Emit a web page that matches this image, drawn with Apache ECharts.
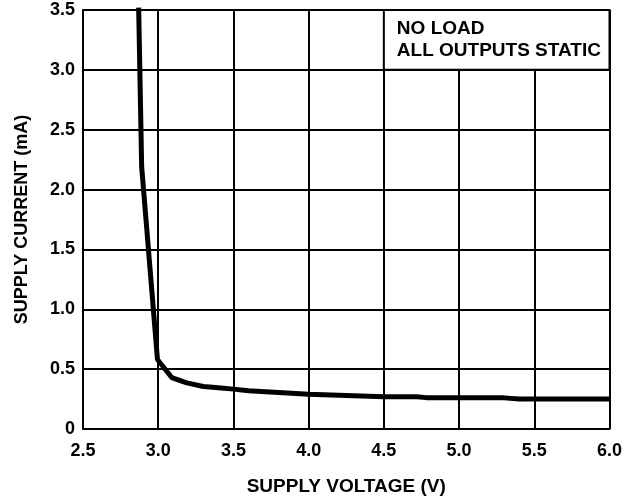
<!DOCTYPE html>
<html>
<head>
<meta charset="utf-8">
<script src="https://cdn.jsdelivr.net/npm/echarts@6/dist/echarts.min.js"></script>
<style>
  html, body { margin: 0; padding: 0; background: #fff; }
  #chart { width: 625px; height: 502px; }
</style>
</head>
<body>
<div id="chart"></div>
<script>
// supply voltage (V) vs supply current (mA)
const voltage = [2.87, 2.89, 2.995, 3.09, 3.19, 3.3, 3.4, 3.5, 3.6, 4.0, 4.5, 4.72, 4.78, 5.3, 5.4, 6.0]
const current = [3.52, 2.19, 0.58, 0.43, 0.385, 0.355, 0.345, 0.333, 0.32, 0.29, 0.27, 0.27, 0.262, 0.26, 0.25, 0.25]

const xTickLabels = ['2.5', '3.0', '3.5', '4.0', '4.5', '5.0', '5.5', '6.0']
const yTickLabels = ['0', '0.5', '1.0', '1.5', '2.0', '2.5', '3.0', '3.5']

const noteLines = ['NO LOAD', 'ALL OUTPUTS STATIC']

const font = 'Liberation Sans, Arial, sans-serif'
const chart = echarts.init(document.getElementById('chart'))

chart.setOption({
  animation: false,
  grid: { left: 83, right: 14, top: 10, bottom: 73 },
  xAxis: {
    type: 'value',
    min: 2.5,
    max: 6.0,
    interval: 0.5,
    name: 'SUPPLY VOLTAGE (V)',
    nameLocation: 'middle',
    nameGap: 48,
    nameTextStyle: { color: '#000', fontWeight: 'bold', fontSize: 19, fontFamily: font },
    axisLine: { lineStyle: { color: '#000', width: 2 } },
    axisTick: { show: false },
    axisLabel: {
      color: '#000', fontWeight: 'bold', fontSize: 18, fontFamily: font, margin: 13,
      formatter: v => xTickLabels[Math.round((v - 2.5) / 0.5)]
    },
    splitLine: { show: true, lineStyle: { color: '#000', width: 2 } }
  },
  yAxis: {
    type: 'value',
    min: 0,
    max: 3.5,
    interval: 0.5,
    name: 'SUPPLY CURRENT (mA)',
    nameLocation: 'middle',
    nameGap: 52,
    nameTextStyle: { color: '#000', fontWeight: 'bold', fontSize: 18, fontFamily: font },
    axisLine: { show: true, lineStyle: { color: '#000', width: 2 } },
    axisTick: { show: false },
    axisLabel: {
      color: '#000', fontWeight: 'bold', fontSize: 18, fontFamily: font, margin: 8,
      formatter: v => yTickLabels[Math.round(v / 0.5)]
    },
    splitLine: { show: true, lineStyle: { color: '#000', width: 2 } }
  },
  series: [{
    type: 'line',
    data: voltage.map((v, i) => [v, current[i]]),
    showSymbol: false,
    clip: false,
    lineStyle: { color: '#000', width: 5 },
    markArea: {
      silent: true,
      itemStyle: { color: '#fff', borderColor: '#000', borderWidth: 2 },
      label: {
        show: true,
        position: [14, 9],
        color: '#000',
        fontWeight: 'bold',
        fontSize: 19,
        fontFamily: font,
        lineHeight: 22,
        formatter: noteLines.join('\n')
      },
      data: [[{ xAxis: 4.5, yAxis: 3.5 }, { xAxis: 6.0, yAxis: 3.0 }]]
    }
  }]
})
</script>
</body>
</html>
